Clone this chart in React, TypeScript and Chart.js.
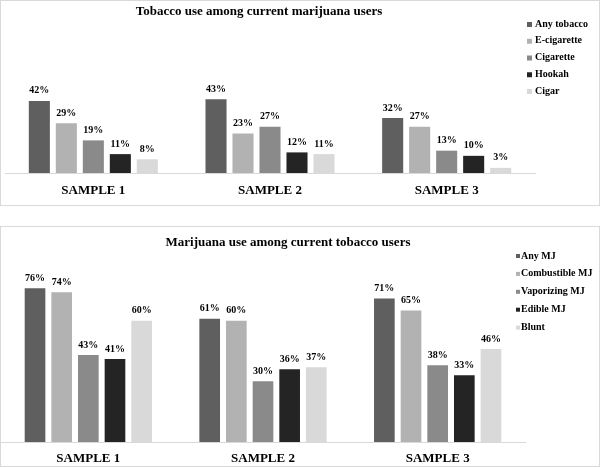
import React, { useEffect, useRef } from "react";
import { Chart, registerables } from "chart.js";

Chart.register(...registerables);

const FONT = "'Liberation Serif', 'Times New Roman', serif";

const categories = ["SAMPLE 1", "SAMPLE 2", "SAMPLE 3"];

const tobaccoLabels = ["Any tobacco", "E-cigarette", "Cigarette", "Hookah", "Cigar"];
const anyTobacco = [42, 43, 32];
const eCigarette = [29, 23, 27];
const cigarette = [19, 27, 13];
const hookah = [11, 12, 10];
const cigar = [8, 11, 3];

const mjLabels = ["Any MJ", "Combustible MJ", "Vaporizing MJ", "Edible MJ", "Blunt"];
const anyMJ = [76, 61, 71];
const combustibleMJ = [74, 60, 65];
const vaporizingMJ = [43, 30, 38];
const edibleMJ = [41, 36, 33];
const blunt = [60, 37, 46];

const grays = ["#5f5f5f", "#b2b2b2", "#8a8a8a", "#242424", "#d9d9d9"];

const decorPlugin = {
  id: "decor",
  afterDatasetsDraw(chart: any, _args: any, opts: any) {
    const ctx = chart.ctx;
    ctx.save();
    ctx.fillStyle = "#000";
    ctx.textAlign = "center";
    ctx.textBaseline = "middle";
    ctx.font = `bold 10px ${FONT}`;
    chart.data.datasets.forEach((ds: any, i: number) => {
      const meta = chart.getDatasetMeta(i);
      meta.data.forEach((el: any, j: number) => {
        ctx.fillText(`${ds.data[j]}%`, el.x, el.y - 10);
      });
    });
    ctx.font = `bold 13px ${FONT}`;
    ctx.fillText(opts.title, opts.titleX, opts.titleY);
    ctx.font = `bold 10px ${FONT}`;
    ctx.textAlign = "left";
    chart.data.datasets.forEach((ds: any, i: number) => {
      const y = opts.legendY + i * opts.legendGap;
      ctx.fillStyle = ds.backgroundColor;
      ctx.fillRect(opts.legendX, y - 2, opts.box, opts.box);
      ctx.fillStyle = "#000";
      ctx.fillText(ds.label, opts.legendTextX, y);
    });
    ctx.restore();
  },
};

type PanelProps = {
  top: number;
  height: number;
  labels: string[];
  series: number[][];
  yMax: number;
  padding: { left: number; right: number; top: number; bottom: number };
  axisHeight: number;
  tickPad: number;
  decor: any;
  catPct: number;
  barPct: number;
};

function Panel(p: PanelProps) {
  const ref = useRef<HTMLCanvasElement | null>(null);
  useEffect(() => {
    if (!ref.current) return;
    const chart = new Chart(ref.current, {
      type: "bar",
      data: {
        labels: categories,
        datasets: p.series.map((vals, i) => ({
          label: p.labels[i],
          data: vals,
          backgroundColor: grays[i],
          borderWidth: 0,
          categoryPercentage: p.catPct,
          barPercentage: p.barPct,
        })),
      },
      options: {
        responsive: false,
        animation: false,
        devicePixelRatio: 1,
        layout: { padding: p.padding },
        plugins: {
          legend: { display: false },
          title: { display: false },
          tooltip: { enabled: false },
          decor: p.decor,
        } as any,
        scales: {
          x: {
            grid: { display: false },
            border: { display: true, color: "#d9d9d9", width: 1 },
            ticks: {
              font: { family: FONT, size: 13, weight: "bold" },
              color: "#000",
              padding: p.tickPad,
            },
            afterFit: (s: any) => {
              s.height = p.axisHeight;
            },
          },
          y: {
            display: false,
            min: 0,
            max: p.yMax,
          },
        },
      },
      plugins: [decorPlugin],
    });
    return () => chart.destroy();
  }, []);
  return (
    <div
      style={{
        position: "absolute",
        left: 0,
        top: p.top,
        width: 600,
        height: p.height,
        boxSizing: "border-box",
        border: "1px solid #d9d9d9",
        background: "#fff",
      }}
    >
      <canvas ref={ref} width={598} height={p.height - 2} style={{ display: "block" }} />
    </div>
  );
}

export default function App() {
  return (
    <div style={{ position: "absolute", left: 0, top: 0, width: 600, height: 467, background: "#fff" }}>
      <Panel
        top={0}
        height={206}
        labels={tobaccoLabels}
        series={[anyTobacco, eCigarette, cigarette, hookah, cigar]}
        yMax={60}
        padding={{ left: 4, right: 64, top: 69, bottom: 0 }}
        axisHeight={32}
        tickPad={2}
        catPct={0.764}
        barPct={0.78}
        decor={{
          title: "Tobacco use among current marijuana users",
          titleX: 258,
          titleY: 11,
          legendX: 526,
          legendTextX: 534,
          legendY: 23,
          legendGap: 16.75,
          box: 5,
        }}
      />
      <Panel
        top={226}
        height={241}
        labels={mjLabels}
        series={[anyMJ, combustibleMJ, vaporizingMJ, edibleMJ, blunt]}
        yMax={90}
        padding={{ left: 0, right: 74, top: 33, bottom: 0 }}
        axisHeight={24}
        tickPad={1}
        catPct={0.763}
        barPct={0.775}
        decor={{
          title: "Marijuana use among current tobacco users",
          titleX: 287,
          titleY: 16,
          legendX: 515,
          legendTextX: 520,
          legendY: 29,
          legendGap: 17.9,
          box: 4,
        }}
      />
    </div>
  );
}
